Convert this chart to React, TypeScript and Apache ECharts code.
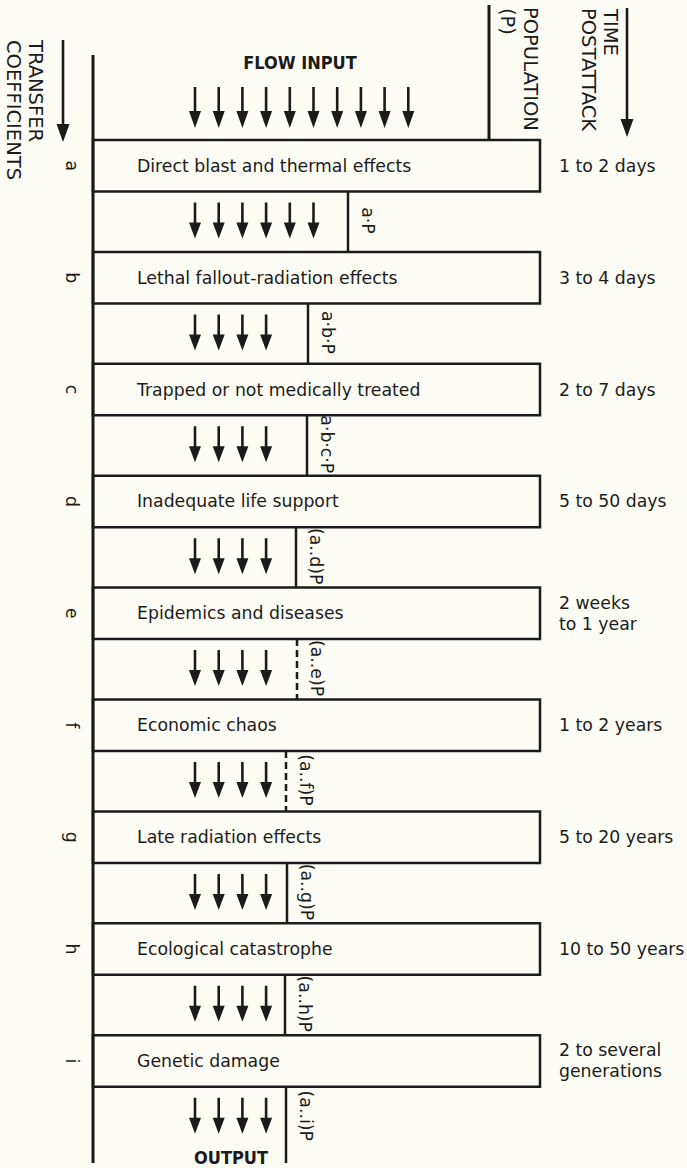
import React, { useEffect, useRef } from 'react';
import * as echarts from 'echarts';

// ---- data ----
const letters = ['a', 'b', 'c', 'd', 'e', 'f', 'g', 'h', 'i'];
const stages = [
  'Direct blast and thermal effects',
  'Lethal fallout-radiation effects',
  'Trapped or not medically treated',
  'Inadequate life support',
  'Epidemics and diseases',
  'Economic chaos',
  'Late radiation effects',
  'Ecological catastrophe',
  'Genetic damage',
];
const times = [
  '1 to 2 days',
  '3 to 4 days',
  '2 to 7 days',
  '5 to 50 days',
  '2 weeks\nto 1 year',
  '1 to 2 years',
  '5 to 20 years',
  '10 to 50 years',
  '2 to several\ngenerations',
];
const survivorLabels = ['a·P', 'a·b·P', 'a·b·c·P', '(a..d)P', '(a..e)P', '(a..f)P', '(a..g)P', '(a..h)P', '(a..i)P'];
// flow-channel extent (x-axis units) remaining after each stage
const survivorExtent = [348, 308, 307, 296, 297, 286, 287, 285, 286];
const uncertain = [false, false, false, false, true, true, false, false, false];
const flowArrows = [6, 4, 4, 4, 4, 4, 4, 4, 4];
const inputArrows = 10;
const headers = {
  left: ['TRANSFER', 'COEFFICIENTS'],
  population: ['POPULATION', '(P)'],
  time: ['TIME', 'POSTATTACK'],
  input: 'FLOW INPUT',
  output: 'OUTPUT',
};

// ---- layout / style ----
const W = 687;
const H = 1168;
const BG = '#fdfdf5';
const INK = '#1b1b1b';
const FONT = "'DejaVu Sans', sans-serif";
const BOLDFONT = "'DejaVu Sans Condensed', 'DejaVu Sans', sans-serif";
const X0 = 93;
const XR = 540;
const TOP0 = 140;
const PITCH = 111.9;
const BOXH = 51.5;
const END_Y = 1163;
const ARROW_X0 = 195;
const ARROW_DX = 23.7;

function arrowPts(cx: number, y0: number, y1: number, hw: number, hl: number, sw: number) {
  return [
    [cx - sw / 2, y0],
    [cx + sw / 2, y0],
    [cx + sw / 2, y1 - hl],
    [cx + hw / 2, y1 - hl],
    [cx, y1],
    [cx - hw / 2, y1 - hl],
    [cx - sw / 2, y1 - hl],
  ];
}

function txt(text: string, x: number, y: number, opts: any = {}) {
  const align = opts.align || 'left';
  const va = opts.va || 'middle';
  return {
    type: 'text',
    x,
    y,
    rotation: opts.rotation || 0,
    z: opts.z,
    style: {
      text,
      fill: INK,
      fontSize: opts.size || 17.3,
      fontFamily: opts.family || FONT,
      fontWeight: opts.weight || 'normal',
      lineHeight: opts.lineHeight,
      align,
      verticalAlign: va,
      textAlign: align,
      textVerticalAlign: va,
    },
  };
}

const ROT = -Math.PI / 2;

function buildOption() {
  const graphics: any[] = [];
  // main vertical line
  graphics.push({ type: 'line', z: 20, shape: { x1: X0, y1: 55, x2: X0, y2: END_Y }, style: { stroke: INK, lineWidth: 3 } });
  // population line
  graphics.push({ type: 'line', z: 20, shape: { x1: 489, y1: 5, x2: 489, y2: TOP0 }, style: { stroke: INK, lineWidth: 3 } });
  // header arrows
  graphics.push({ type: 'polygon', z: 20, shape: { points: arrowPts(63, 40, 142, 13, 18, 2.6) }, style: { fill: INK } });
  graphics.push({ type: 'polygon', z: 20, shape: { points: arrowPts(627, 8, 137, 13, 18, 2.6) }, style: { fill: INK } });
  // header texts (rotated)
  graphics.push(txt(headers.left[0], 35, 40, { rotation: ROT, size: 19.5, z: 20 }));
  graphics.push(txt(headers.left[1], 13, 40, { rotation: ROT, size: 19.5, z: 20 }));
  graphics.push(txt(headers.population[0], 530, 7, { rotation: ROT, size: 19.5, z: 20 }));
  graphics.push(txt(headers.population[1], 507, 8, { rotation: ROT, size: 19.5, z: 20 }));
  graphics.push(txt(headers.time[0], 610, 9, { rotation: ROT, size: 19.5, z: 20 }));
  graphics.push(txt(headers.time[1], 588, 8, { rotation: ROT, size: 19.5, z: 20 }));
  // flow input
  graphics.push(txt(headers.input, 300, 62, { align: 'center', size: 18, weight: 'bold', family: BOLDFONT, z: 20 }));
  for (let k = 0; k < inputArrows; k++) {
    graphics.push({ type: 'polygon', z: 20, shape: { points: arrowPts(ARROW_X0 + k * ARROW_DX, 87, 128, 12, 17, 2.6) }, style: { fill: INK } });
  }
  graphics.push(txt(headers.output, 231, 1157, { align: 'center', size: 18, weight: 'bold', family: BOLDFONT, z: 20 }));

  return {
    animation: false,
    backgroundColor: BG,
    grid: { left: 0, right: 0, top: 0, bottom: 0, containLabel: false },
    xAxis: { type: 'value', min: 0, max: W, show: false },
    yAxis: { type: 'value', min: 0, max: H, inverse: true, show: false },
    graphic: { elements: graphics },
    series: [
      {
        type: 'custom',
        clip: false,
        data: stages.map((_, i) => [i]),
        renderItem: (params: any, api: any) => {
          const i = api.value(0) as number;
          const P = (x: number, y: number) => api.coord([x, y]);
          const top = TOP0 + i * PITCH;
          const bot = top + BOXH;
          const last = i === stages.length - 1;
          const gapEnd = last ? END_Y : top + PITCH;
          const gapC = bot + 29;
          const kids: any[] = [];
          const a = P(X0, top);
          const b = P(XR, bot);
          kids.push({
            type: 'rect',
            shape: { x: a[0], y: a[1], width: b[0] - a[0], height: b[1] - a[1] },
            style: { fill: BG, stroke: INK, lineWidth: 2.5 },
          });
          const m = P(137, top + BOXH / 2);
          kids.push(txt(stages[i], m[0], m[1]));
          const t = P(559, top + BOXH / 2);
          kids.push(txt(times[i], t[0], t[1], { lineHeight: 21 }));
          const l = P(72, top + BOXH / 2);
          kids.push(txt(letters[i], l[0], l[1], { rotation: ROT, align: 'center' }));
          const d0 = P(survivorExtent[i], bot);
          const d1 = P(survivorExtent[i], gapEnd);
          kids.push({
            type: 'line',
            shape: { x1: d0[0], y1: d0[1], x2: d1[0], y2: d1[1] },
            style: { stroke: INK, lineWidth: 2.5, lineDash: uncertain[i] ? [7, 4] : null },
          });
          const lb = P(survivorExtent[i] + 20, gapC);
          kids.push(txt(survivorLabels[i], lb[0], lb[1], { rotation: ROT, align: 'center' }));
          for (let k = 0; k < flowArrows[i]; k++) {
            const pts = arrowPts(ARROW_X0 + k * ARROW_DX, gapC - 18, gapC + 18, 12, 16, 2.6).map((p) => P(p[0], p[1]));
            kids.push({ type: 'polygon', shape: { points: pts }, style: { fill: INK } });
          }
          return { type: 'group', children: kids };
        },
      },
    ],
  };
}

export default function App() {
  const ref = useRef<HTMLDivElement>(null);
  useEffect(() => {
    const chart = echarts.init(ref.current as HTMLDivElement, null, { renderer: 'svg' });
    chart.setOption(buildOption() as any);
    return () => chart.dispose();
  }, []);
  return <div ref={ref} style={{ position: 'absolute', left: 0, top: 0, width: W, height: H }} />;
}
